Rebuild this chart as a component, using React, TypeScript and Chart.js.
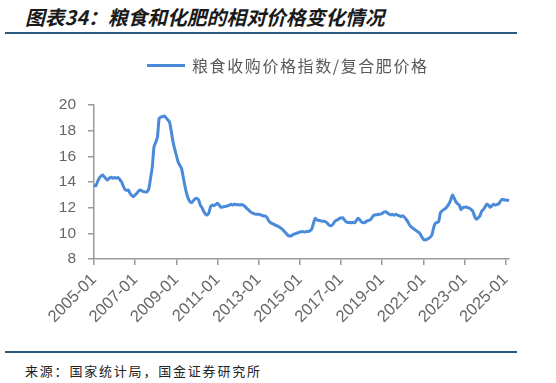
import React, { useEffect, useRef } from "react";
import { Chart, registerables } from "chart.js";

Chart.register(...registerables);

const title = "图表34：粮食和化肥的相对价格变化情况";
const seriesName = "粮食收购价格指数/复合肥价格";
const source = "来源：国家统计局，国金证券研究所";

const startYear = 2005;
const yTicks = [8, 10, 12, 14, 16, 18, 20];

const v2005 = [13.75, 13.7, 14.0, 14.3, 14.45, 14.55, 14.4, 14.25, 14.16, 14.3, 14.37, 14.3];
const v2006 = [14.35, 14.3, 14.35, 14.2, 14.03, 13.7, 13.43, 13.35, 13.38, 13.12, 12.95, 12.86];
const v2007 = [13.0, 13.12, 13.3, 13.38, 13.3, 13.25, 13.22, 13.25, 13.5, 14.3, 15.2, 16.75];
const v2008 = [17.1, 17.5, 18.97, 19.05, 19.1, 19.15, 19.0, 18.85, 18.7, 18.0, 17.2, 16.6];
const v2009 = [16.1, 15.58, 15.3, 15.07, 14.4, 13.7, 13.12, 12.7, 12.47, 12.4, 12.55, 12.7];
const v2010 = [12.73, 12.6, 12.2, 12.0, 11.7, 11.5, 11.43, 11.6, 12.08, 12.2, 12.15, 12.25];
const v2011 = [12.34, 12.2, 12.03, 12.05, 12.08, 12.1, 12.15, 12.2, 12.26, 12.2, 12.28, 12.22];
const v2012 = [12.24, 12.2, 12.25, 12.2, 12.1, 11.95, 11.85, 11.7, 11.6, 11.55, 11.5, 11.48];
const v2013 = [11.48, 11.45, 11.4, 11.35, 11.35, 11.2, 10.95, 10.83, 10.75, 10.7, 10.62, 10.57];
const v2014 = [10.5, 10.4, 10.3, 10.15, 10.0, 9.85, 9.79, 9.8, 9.9, 9.95, 10.0, 10.05];
const v2015 = [10.1, 10.13, 10.13, 10.1, 10.15, 10.15, 10.2, 10.35, 10.8, 11.17, 11.05, 11.0];
const v2016 = [10.99, 10.95, 10.95, 10.9, 10.8, 10.65, 10.6, 10.65, 10.85, 10.99, 11.05, 11.15];
const v2017 = [11.2, 11.22, 11.05, 10.9, 10.85, 10.85, 10.83, 10.85, 10.83, 11.0, 11.17, 11.05];
const v2018 = [10.9, 10.83, 10.85, 10.95, 11.0, 11.04, 11.2, 11.4, 11.43, 11.45, 11.48, 11.5];
const v2019 = [11.55, 11.65, 11.69, 11.6, 11.5, 11.43, 11.48, 11.4, 11.48, 11.42, 11.38, 11.3];
const v2020 = [11.38, 11.25, 11.1, 10.9, 10.65, 10.5, 10.4, 10.3, 10.2, 10.1, 10.0, 9.75];
const v2021 = [9.55, 9.48, 9.52, 9.6, 9.7, 9.87, 10.4, 10.78, 10.85, 10.9, 11.6, 11.75];
const v2022 = [11.85, 11.95, 12.1, 12.3, 12.6, 12.99, 12.75, 12.47, 12.3, 12.2, 11.85, 12.0];
const v2023 = [12.03, 12.05, 12.0, 11.95, 11.85, 11.69, 11.3, 11.1, 11.2, 11.35, 11.7, 11.85];
const v2024 = [12.05, 12.26, 12.2, 12.03, 12.15, 12.26, 12.2, 12.26, 12.3, 12.5, 12.65, 12.62];
const v2025 = [12.6, 12.58, 12.55];

const values = [
  ...v2005, ...v2006, ...v2007, ...v2008, ...v2009, ...v2010, ...v2011,
  ...v2012, ...v2013, ...v2014, ...v2015, ...v2016, ...v2017, ...v2018,
  ...v2019, ...v2020, ...v2021, ...v2022, ...v2023, ...v2024, ...v2025,
];

const categories = values.map((_, i) => {
  const y = startYear + Math.floor(i / 12);
  const m = (i % 12) + 1;
  return `${y}-${m < 10 ? "0" + m : m}`;
});

const LINE = "#4a8ad8";
const AXIS = "#9a9a9a";
const TEXT = "#666666";
const RULE = "#2b5a80";

export default function App() {
  const ref = useRef<HTMLCanvasElement | null>(null);

  useEffect(() => {
    if (!ref.current) return;
    const chart = new Chart(ref.current, {
      type: "line",
      data: {
        labels: categories,
        datasets: [
          {
            label: seriesName,
            data: values,
            borderColor: LINE,
            backgroundColor: LINE,
            borderWidth: 3,
            pointRadius: 0,
            tension: 0.2,
          },
        ],
      },
      options: {
        animation: false,
        responsive: false,
        maintainAspectRatio: false,
        layout: { padding: { top: 105, right: 47, left: 0, bottom: 0 } },
        plugins: { legend: { display: false }, tooltip: { enabled: false }, title: { display: false } },
        scales: {
          x: {
            type: "category",
            offset: false,
            afterBuildTicks: (scale: any) => {
              scale.ticks = scale.ticks.filter((t: any) => t.value % 24 === 0);
            },
            afterFit: (scale: any) => {
              scale.height = 86;
            },
            ticks: {
              autoSkip: false,
              maxRotation: 45,
              minRotation: 45,
              color: TEXT,
              padding: 5,
              font: { family: "'Liberation Sans', Arial, sans-serif", size: 16.5 },
              callback: function (this: any, value: any) {
                return this.getLabelForValue(value);
              },
            },
            grid: {
              display: true,
              drawOnChartArea: false,
              drawTicks: true,
              tickLength: 6,
              color: AXIS,
              lineWidth: 1.5,
            },
            border: { display: true, color: AXIS, width: 1.5 },
          },
          y: {
            min: 8,
            max: 20,
            afterBuildTicks: (scale: any) => {
              scale.ticks = yTicks.map((v) => ({ value: v }));
            },
            afterFit: (scale: any) => {
              scale.width = 94;
            },
            ticks: {
              color: TEXT,
              padding: 12,
              font: { family: "'Liberation Sans', Arial, sans-serif", size: 15.5 },
            },
            grid: {
              display: true,
              drawOnChartArea: false,
              drawTicks: true,
              tickLength: 6,
              color: AXIS,
              lineWidth: 1.5,
            },
            border: { display: true, color: AXIS, width: 1.5 },
          },
        },
      },
    });
    return () => chart.destroy();
  }, []);

  return (
    <div
      style={{
        position: "fixed",
        left: 0,
        top: 0,
        width: 556,
        height: 383,
        background: "#fff",
        overflow: "hidden",
        fontFamily: "'Noto Sans CJK SC', sans-serif",
      }}
    >
      <div
        style={{
          position: "absolute",
          left: 25,
          top: 3,
          fontSize: 19.8,
          fontWeight: 700,
          fontStyle: "italic",
          color: "#1a1a1a",
          whiteSpace: "nowrap",
          lineHeight: "28px",
        }}
      >
        {title}
      </div>
      <div style={{ position: "absolute", left: 5, top: 32, width: 512, height: 2, background: RULE }} />
      <canvas ref={ref} width={556} height={345} style={{ position: "absolute", left: 0, top: 0, width: 556, height: 345 }} />
      <div
        style={{
          position: "absolute",
          left: 147,
          top: 54,
          height: 22,
          display: "flex",
          alignItems: "center",
          whiteSpace: "nowrap",
        }}
      >
        <span style={{ display: "inline-block", width: 38, height: 3, background: LINE, marginRight: 7 }} />
        <span style={{ fontSize: 16, letterSpacing: "1.6px", color: "#595959", lineHeight: "22px" }}>{seriesName}</span>
      </div>
      <div style={{ position: "absolute", left: 5, top: 351, width: 512, height: 2, background: RULE }} />
      <div
        style={{
          position: "absolute",
          left: 25,
          top: 361,
          fontSize: 13,
          letterSpacing: "1.8px",
          color: "#222",
          whiteSpace: "nowrap",
          lineHeight: "20px",
        }}
      >
        {source}
      </div>
    </div>
  );
}
